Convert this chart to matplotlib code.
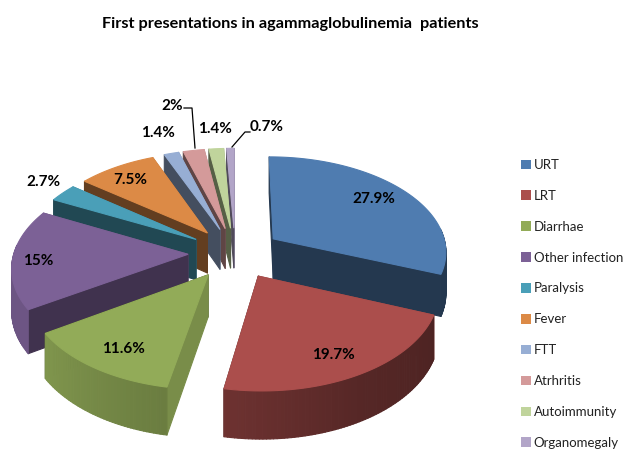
import numpy as np
from matplotlib import pyplot as plt
from matplotlib.patches import Patch, Polygon

categories = ["URT", "LRT", "Diarrhae", "Other infection", "Paralysis", "Fever",
              "FTT", "Atrhritis", "Autoimmunity", "Organomegaly"]
values = [27.9, 19.7, 11.6, 15, 2.7, 7.5, 1.4, 2, 1.4, 0.7]
title = "First presentations in agammaglobulinemia  patients"

colors = ["#4f7cb0", "#ab4e4c", "#92ab58", "#7c6196", "#4a9fb8", "#dc8a46",
          "#97aed4", "#d49a9a", "#c0d49c", "#b2a5c8"]
label_x = [374, 333, 123, 38, 43, 130, 158, 172, 215, 267]
label_y = [199, 355, 349, 261, 182, 180, 133, 106, 129, 127]

plt.rcParams['font.family'] = ['Lato', 'DejaVu Sans']

# pie geometry, in picture pixels
cx, cy = 235, 253
rx, ry = 174, 95
persp = 0.12
explode = 0.27
depth = 41


def project(u, v, z=0.0):
    s = 1 / (1 - persp * v)
    return cx + rx * u * s, cy + ry * v * s + depth * z * s


def shade(color, f):
    rgb = np.array(plt.matplotlib.colors.to_rgb(color))
    return tuple(rgb * f)


def arc_shade(t):
    return np.interp(t, [0, 111, 150, 190, 191, 237, 300],
                     [.45, .45, .5, .64, .73, .88, .85])


def side_shade(normal):
    return np.interp(normal % 360, [100, 147, 201], [.83, .52, .45])


fig = plt.figure(figsize=(6.23, 4.5), dpi=100)
ax = fig.add_axes([0, 0, 1, 1])
ax.set_xlim(0, 623)
ax.set_ylim(450, 0)
ax.axis("off")

total = sum(values)
edges = np.concatenate([[0], np.cumsum(values)]) / total * 360
mids = (edges[:-1] + edges[1:]) / 2

# back slices first so the front ones cover them
order = sorted(range(len(values)), key=lambda i: -np.cos(np.radians(mids[i])))

for i in order:
    t0, t1 = edges[i], edges[i + 1]
    m = np.radians(mids[i])
    ou, ov = explode * np.sin(m), -explode * np.cos(m)
    ts = np.linspace(t0, t1, max(4, int(t1 - t0) + 2))
    us = ou + np.sin(np.radians(ts))
    vs = ov - np.cos(np.radians(ts))
    walls = []
    for j in range(len(ts) - 1):
        tm = (ts[j] + ts[j + 1]) / 2
        # the rim at the back cannot be seen
        if np.cos(np.radians(tm)) > 0.1:
            continue
        q = [project(us[j], vs[j]), project(us[j + 1], vs[j + 1]),
             project(us[j + 1], vs[j + 1], 1), project(us[j], vs[j], 1)]
        walls.append(((vs[j] + vs[j + 1]) / 2, q, shade(colors[i], arc_shade(tm))))
    for t, u, v, normal in [(t0, us[0], vs[0], t0 - 90), (t1, us[-1], vs[-1], t1 + 90)]:
        q = [project(ou, ov), project(u, v), project(u, v, 1), project(ou, ov, 1)]
        walls.append(((ov + v) / 2, q, shade(colors[i], side_shade(normal))))
    for _, q, c in sorted(walls, key=lambda w: w[0]):
        ax.add_patch(Polygon(q, closed=True, facecolor=c, edgecolor=c, lw=0.8, joinstyle="round"))
    top = [project(ou, ov)] + [project(u, v) for u, v in zip(us, vs)]
    ax.add_patch(Polygon(top, closed=True, facecolor=colors[i], edgecolor=colors[i], lw=0.8))

for v, x, y in zip(values, label_x, label_y):
    ax.text(x, y, f"{v:g}%", ha="center", va="center", fontsize=11, fontweight="bold", color="black")

# leader lines for the 2% and 0.7% labels
ax.plot([184, 192, 195], [108, 108, 148], color="black", lw=0.9)
ax.plot([250, 245, 232], [132, 132, 147], color="black", lw=0.9)

ax.text(290, 24, title, ha="center", va="center", fontsize=11.7, fontweight="bold", color="black")

handles = [Patch(facecolor=c, edgecolor="none", label=n) for c, n in zip(colors, categories)]
ax.legend(handles=handles, loc="upper left", bbox_to_anchor=(521, 159), bbox_transform=ax.transData,
          frameon=False, fontsize=9.5, handlelength=0.75, handleheight=0.75, handletextpad=0.2,
          labelspacing=1.43, borderpad=0, borderaxespad=0, labelcolor="#222222")

plt.savefig("out.png", dpi=100)
